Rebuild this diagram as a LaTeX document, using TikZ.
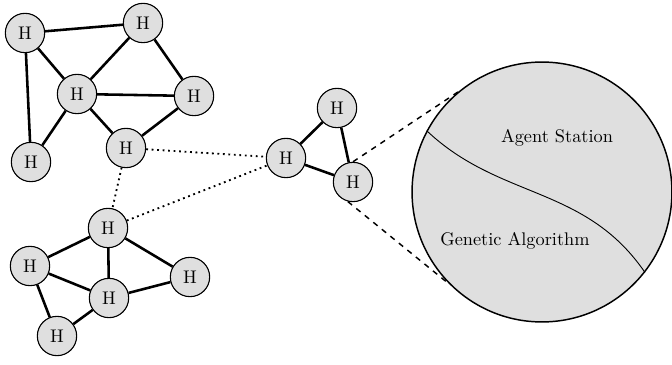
\documentclass[tikz,border=0pt]{standalone}
\begin{document}
\begin{tikzpicture}[x=0.5464pt, y=-0.5464pt,
  hnode/.style={circle, draw=black, line width=0.6pt, fill=gray!25, minimum size=21.5pt, inner sep=0pt, font=\normalsize},
  bond/.style={line width=1.4pt},
  link/.style={line width=1pt, dotted},
  zoomline/.style={line width=0.8pt, dashed},
  bigc/.style={circle, draw=black, line width=0.8pt, fill=gray!25, minimum size=142pt, inner sep=0pt}]
\useasboundingbox (0,0) rectangle (672,365);
% cluster 1
\node[hnode] (a1) at (25,33) {H};
\node[hnode] (a2) at (143,23) {H};
\node[hnode] (a3) at (77,94) {H};
\node[hnode] (a4) at (194,96) {H};
\node[hnode] (a5) at (31,162) {H};
\node[hnode] (a6) at (126,148) {H};
% cluster 2
\node[hnode] (b1) at (337,108) {H};
\node[hnode] (b2) at (286,158) {H};
\node[hnode] (b3) at (353,182) {H};
% cluster 3
\node[hnode] (c1) at (108,228) {H};
\node[hnode] (c2) at (30,266) {H};
\node[hnode] (c3) at (190,277) {H};
\node[hnode] (c4) at (109,298) {H};
\node[hnode] (c5) at (57,336) {H};
% big circle
\node[bigc] (zoom) at (542,192) {};
% bonds
\draw[bond] (a1) -- (a2);
\draw[bond] (a1) -- (a3);
\draw[bond] (a1) -- (a5);
\draw[bond] (a2) -- (a3);
\draw[bond] (a2) -- (a4);
\draw[bond] (a3) -- (a4);
\draw[bond] (a3) -- (a5);
\draw[bond] (a3) -- (a6);
\draw[bond] (a6) -- (a4);
\draw[bond] (b1) -- (b2);
\draw[bond] (b1) -- (b3);
\draw[bond] (b2) -- (b3);
\draw[bond] (c1) -- (c2);
\draw[bond] (c1) -- (c4);
\draw[bond] (c1) -- (c3);
\draw[bond] (c2) -- (c4);
\draw[bond] (c2) -- (c5);
\draw[bond] (c5) -- (c4);
\draw[bond] (c4) -- (c3);
% links
\draw[link] (a6) -- (b2);
\draw[link] (a6) -- (c1);
\draw[link] (c1) -- (b2);
% zoom lines
\draw[zoomline] (b3.north) -- (zoom.130);
\draw[zoomline] (b3.255) -- (zoom.225);
% divider
\draw[line width=0.5pt] (zoom.152) .. controls (500,200) and (585,185) .. (zoom.-38);
\node (as) at (557,138) {Agent Station};
\node (ga) at (515,241) {Genetic Algorithm};
\end{tikzpicture}
\end{document}
